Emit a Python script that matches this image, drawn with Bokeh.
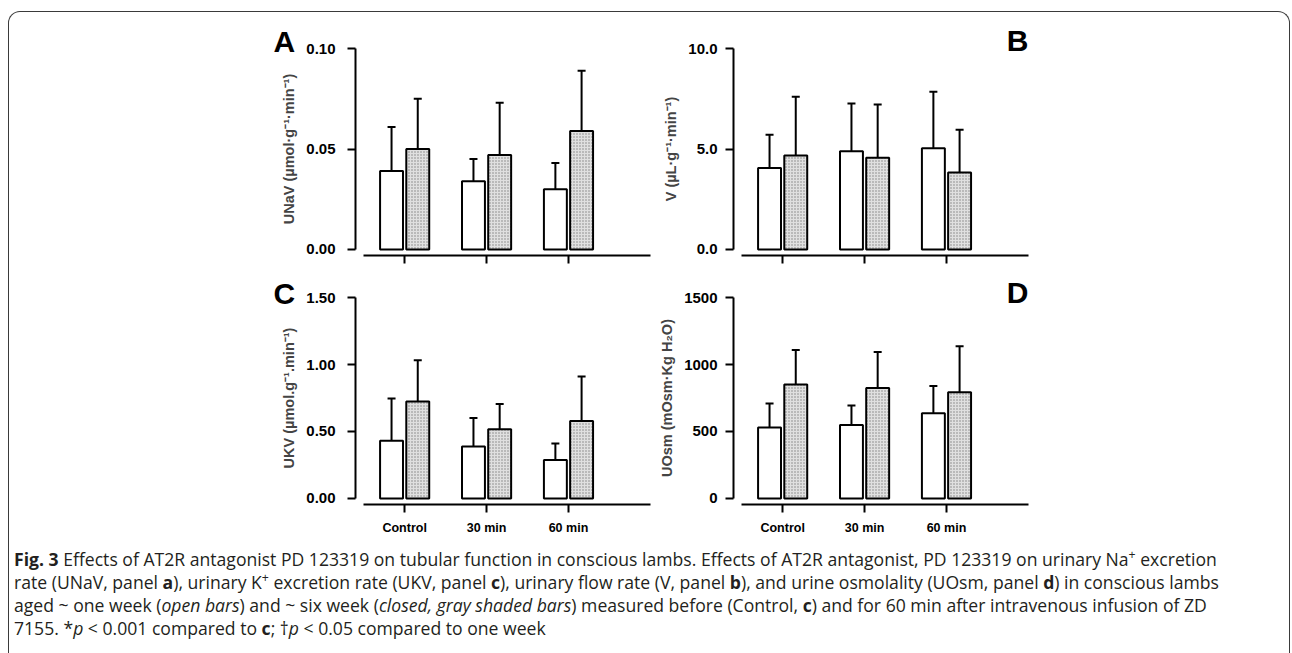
import numpy as np
from bokeh.plotting import figure
from bokeh.models import (Range1d, FixedTicker, ColumnDataSource, Whisker, TeeHead,
                          Div, Spacer, PrintfTickFormatter)
from bokeh.layouts import column, row
from bokeh.embed import file_html
from bokeh.resources import INLINE

# ---------------- data ----------------
categories = ["Control", "30 min", "60 min"]

unav_one = [0.039, 0.034, 0.030]
unav_one_err = [0.022, 0.011, 0.013]
unav_six = [0.050, 0.047, 0.059]
unav_six_err = [0.025, 0.026, 0.030]

v_one = [4.06, 4.89, 5.04]
v_one_err = [1.65, 2.37, 2.81]
v_six = [4.68, 4.56, 3.83]
v_six_err = [2.92, 2.65, 2.13]

ukv_one = [0.43, 0.388, 0.288]
ukv_one_err = [0.316, 0.213, 0.122]
ukv_six = [0.724, 0.517, 0.579]
ukv_six_err = [0.308, 0.189, 0.331]

uosm_one = [530, 549, 637]
uosm_one_err = [179, 145, 203]
uosm_six = [851, 825, 793]
uosm_six_err = [258, 269, 344]

ticks_a = [0.0, 0.05, 0.10]
ticks_b = [0.0, 5.0, 10.0]
ticks_c = [0.0, 0.5, 1.0, 1.5]
ticks_d = [0, 500, 1000, 1500]

FONT = "Liberation Sans"


def panel(title, align, t_offset, t_standoff, ylabel, ymax, yticks, fmt, lab_standoff,
          one, one_err, six, six_err, show_x_labels, mb_left, mb_right, mb_top, mb_bottom):
    k = ymax / 0.10
    p = figure(frame_width=299, frame_height=213,
               x_range=Range1d(-0.6, 3.05), y_range=Range1d(-0.003 * k, 0.103 * k),
               output_backend="svg", toolbar_location=None,
               min_border_left=mb_left, min_border_right=mb_right,
               min_border_top=mb_top, min_border_bottom=mb_bottom)
    idx = np.arange(len(categories))
    off, bw = 0.16, 0.28
    p.vbar(x=idx - off, top=one, bottom=0, width=bw, fill_color="white",
           line_color="black", line_width=2)
    p.vbar(x=idx + off, top=six, bottom=0, width=bw, fill_color="#e0e0e0",
           hatch_pattern="dot", hatch_color="#404040", hatch_scale=3, hatch_weight=1,
           hatch_alpha=0.6, line_color="black", line_width=2)
    for xs, m, e in ((idx - off, one, one_err), (idx + off, six, six_err)):
        m = np.asarray(m, dtype=float)
        src = ColumnDataSource(dict(x=xs, lower=m, upper=m + np.asarray(e, dtype=float)))
        w = Whisker(base="x", lower="lower", upper="upper", source=src, dimension="height",
                    line_width=2, line_color="black",
                    upper_head=TeeHead(size=8, line_width=2, line_color="black"),
                    lower_head=None)
        p.add_layout(w)

    p.xgrid.visible = False
    p.ygrid.visible = False
    p.outline_line_color = None

    for ax in (p.xaxis[0], p.yaxis[0]):
        ax.axis_line_width = 2
        ax.axis_line_color = "black"
        ax.major_tick_line_width = 2
        ax.major_tick_line_color = "black"
        ax.major_tick_out = 8
        ax.major_tick_in = 0
        ax.minor_tick_line_color = None
        ax.major_label_text_font = FONT
        ax.major_label_text_font_style = "bold"
        ax.major_label_text_color = "black"

    p.xaxis.ticker = FixedTicker(ticks=list(idx))
    p.xaxis.bounds = (-0.5, 3.0)
    if show_x_labels:
        p.xaxis.major_label_overrides = {int(i): c for i, c in zip(idx, categories)}
        p.xaxis.major_label_text_font_size = "12.5px"
        p.xaxis.major_label_standoff = 8
    else:
        p.xaxis.major_label_overrides = {int(i): "" for i in idx}
        p.xaxis.major_label_text_font_size = "1px"

    p.yaxis.ticker = FixedTicker(ticks=yticks)
    p.yaxis.bounds = (yticks[0], yticks[-1])
    p.yaxis.formatter = PrintfTickFormatter(format=fmt)
    p.yaxis.major_label_text_font_size = "15px"
    p.yaxis.major_label_standoff = lab_standoff
    p.yaxis.axis_label = ylabel
    p.yaxis.axis_label_text_font = FONT
    p.yaxis.axis_label_text_font_style = "bold"
    p.yaxis.axis_label_text_font_size = "14.5px"
    p.yaxis.axis_label_standoff = 6

    p.title.text = title
    p.title.align = align
    p.title.text_font = FONT
    p.title.text_font_style = "bold"
    p.title.text_font_size = "30px"
    p.title.text_color = "black"
    p.title.standoff = t_standoff
    p.title.offset = t_offset
    return p


pa = panel("A", "left", -82, -30, "UNaV (µmol·g⁻¹·min⁻¹)", 0.10, ticks_a, "%.2f", 12,
           unav_one, unav_one_err, unav_six, unav_six_err, False, 119, 1, 30, 14)
pb = panel("B", "right", 4, -29, "V (µL·g⁻¹·min⁻¹)", 10.0, ticks_b, "%.1f", 8,
           v_one, v_one_err, v_six, v_six_err, False, 78, 14, 30, 14)
pc = panel("C", "left", -82, -36, "UKV (µmol.g⁻¹.min⁻¹)", 1.5, ticks_c, "%.2f", 12,
           ukv_one, ukv_one_err, ukv_six, ukv_six_err, True, 119, 1, 22, 41)
pd = panel("D", "right", 4, -35, "UOsm (mOsm·Kg H₂O)", 1500, ticks_d, "%d", 8,
           uosm_one, uosm_one_err, uosm_six, uosm_six_err, True, 78, 14, 22, 41)

SUP = '<sup style="line-height:0; font-size:0.7em;">+</sup>'
caption_html = (
    '<div style="font-family: \'Open Sans\', sans-serif; font-size: 17.6px; line-height: 23px; '
    'color: #231f20; white-space: nowrap; padding-left: 5px; padding-top: 3px;">'
    '<b>Fig. 3</b> Effects of AT2R antagonist PD 123319 on tubular function in conscious lambs. '
    'Effects of AT2R antagonist, PD 123319 on urinary Na' + SUP + ' excretion<br>'
    'rate (UNaV, panel <b>a</b>), urinary K' + SUP + ' excretion rate (UKV, panel <b>c</b>), '
    'urinary flow rate (V, panel <b>b</b>), and urine osmolality (UOsm, panel <b>d</b>) in conscious lambs<br>'
    'aged ~ one week (<i>open bars</i>) and ~ six week (<i>closed, gray shaded bars</i>) measured before '
    '(Control, <b>c</b>) and for 60 min after intravenous infusion of ZD<br>'
    '7155. *<i>p</i> &lt; 0.001 compared to <b>c</b>; †<i>p</i> &lt; 0.05 compared to one week'
    '</div>'
)
caption = Div(text=caption_html, width=1270, height=96, margin=(0, 0, 0, 0))

layout = column(
    row(Spacer(width=227, height=257), pa, pb),
    row(Spacer(width=227, height=276), pc, pd),
    caption,
    width=1282, height=642, margin=(11, 0, 0, 8),
    styles={"border-top": "1.5px solid #3a3a3a", "border-left": "1.5px solid #3a3a3a",
            "border-right": "1.5px solid #3a3a3a", "border-top-left-radius": "12px",
            "border-top-right-radius": "12px", "background": "white"},
)

open("out.html", "w").write(file_html(layout, INLINE))
